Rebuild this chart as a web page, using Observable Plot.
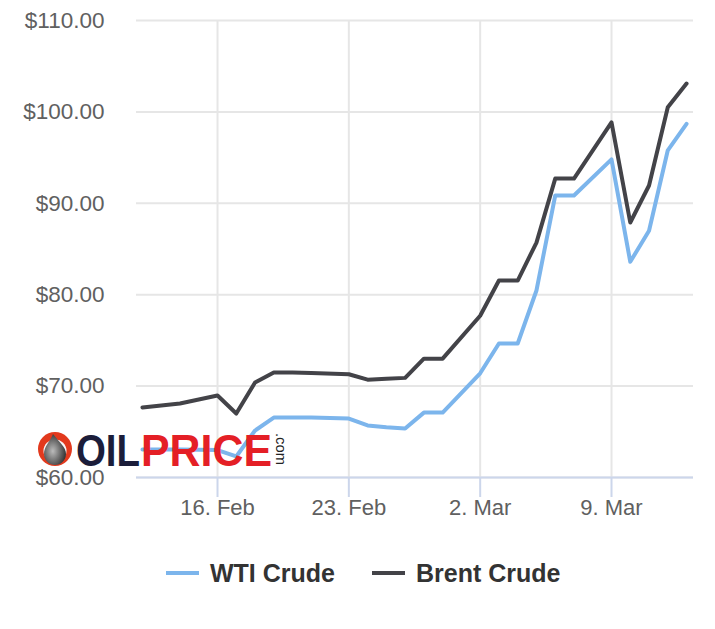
<!DOCTYPE html>
<html>
<head>
<meta charset="utf-8">
<script src="https://cdn.jsdelivr.net/npm/d3@7"></script>
<script src="https://cdn.jsdelivr.net/npm/@observablehq/plot@0.6"></script>
<style>
  html, body { margin: 0; padding: 0; background: #fff; }
  #wrap { position: relative; width: 715px; height: 629px; font-family: "Liberation Sans", Arial, sans-serif; }
  #logo { position: absolute; left: 0; top: 0; pointer-events: none; }
  #legend { position: absolute; left: 166px; top: 559px; height: 28px; display: flex; align-items: center;
            font-weight: bold; font-size: 25px; color: #333; white-space: nowrap; }
  .sym { display: inline-block; width: 33px; height: 4px; margin-right: 11px; }
  .item { display: flex; align-items: center; }
</style>
</head>
<body>
<div id="wrap"></div>
<script>
// ---- data ----
const dates = ["2026-02-12","2026-02-13","2026-02-14","2026-02-16","2026-02-17","2026-02-18","2026-02-19",
  "2026-02-20","2026-02-21","2026-02-23","2026-02-24","2026-02-25","2026-02-26","2026-02-27","2026-02-28",
  "2026-03-02","2026-03-03","2026-03-04","2026-03-05","2026-03-06","2026-03-07","2026-03-09","2026-03-10",
  "2026-03-11","2026-03-12","2026-03-13"];
const wti = [63.06,63.06,63.06,63.0,62.3,65.14,66.56,66.56,66.56,66.45,65.7,65.5,65.36,67.1,67.1,
  71.4,74.66,74.66,80.46,90.85,90.85,94.8,83.6,87.0,95.8,98.7];
const brent = [67.66,67.88,68.1,68.97,67.0,70.39,71.49,71.49,71.43,71.3,70.7,70.8,70.9,73.0,73.0,
  77.7,81.55,81.55,85.7,92.7,92.7,98.85,87.9,91.95,100.5,103.1];
const seriesNames = ["WTI Crude", "Brent Crude"];
const seriesColors = ["#7cb5ec", "#434348"];
const yTicks = [60, 70, 80, 90, 100, 110];
const xTicks = ["2026-02-16", "2026-02-23", "2026-03-02", "2026-03-09"];
const xDomain = ["2026-02-11T16:22:00Z", "2026-03-13T08:53:00Z"];
const monthNames = ["Jan","Feb","Mar","Apr","May","Jun","Jul","Aug","Sep","Oct","Nov","Dec"];

const rows = [];
seriesNames.forEach((name, s) => {
  const vals = s === 0 ? wti : brent;
  dates.forEach((d, i) => rows.push({date: new Date(d), price: vals[i], series: name}));
});
const xTickDates = xTicks.map(d => new Date(d));

const chart = Plot.plot({
  width: 715,
  height: 530,
  marginLeft: 136,
  marginRight: 22,
  marginTop: 20,
  marginBottom: 53,
  style: {fontFamily: "'Liberation Sans', Arial, sans-serif", background: "white", overflow: "visible"},
  x: {type: "utc", domain: xDomain.map(d => new Date(d))},
  y: {domain: [60, 110]},
  color: {domain: seriesNames, range: seriesColors},
  marks: [
    Plot.gridY(yTicks, {stroke: "#e6e6e6", strokeOpacity: 1, strokeWidth: 2}),
    Plot.gridX(xTickDates, {stroke: "#e6e6e6", strokeOpacity: 1, strokeWidth: 2}),
    Plot.ruleY([60], {stroke: "#ccd6eb", strokeWidth: 2}),
    Plot.axisY(yTicks, {tickSize: 0, tickPadding: 32, tickFormat: d => "$" + d.toFixed(2),
      fontSize: 22.5, fill: "#606060", label: null}),
    Plot.axisX(xTickDates, {tickSize: 20, tickPadding: 2, stroke: "#ccd6eb", strokeWidth: 2,
      tickFormat: d => d.getUTCDate() + ". " + monthNames[d.getUTCMonth()],
      fontSize: 22, fill: "#606060", label: null}),
    Plot.line(rows, {x: "date", y: "price", stroke: "series", strokeWidth: 4})
  ]
});
const wrap = document.getElementById("wrap");
wrap.appendChild(chart);

// logo overlay
const logo = `
<svg id="logo" width="715" height="530" xmlns="http://www.w3.org/2000/svg">
  <defs>
    <radialGradient id="dropg" cx="0.4" cy="0.55" r="0.6">
      <stop offset="0" stop-color="#bbb"/><stop offset="1" stop-color="#333"/>
    </radialGradient>
  </defs>
  <circle cx="55" cy="449" r="17" fill="#e2391d"/>
  <circle cx="55" cy="451" r="11.5" fill="#f7f7f7"/>
  <path d="M53,434 C50,442 44,446 44,454 A 11 11 0 0 0 66 454 C 66,447 59,442 53,434 Z" fill="url(#dropg)"/>
  <text x="76" y="466" font-family="'Liberation Sans', Arial, sans-serif" font-weight="bold" font-size="44"
        fill="#1b1d3a" textLength="64" lengthAdjust="spacingAndGlyphs">OIL</text>
  <text x="141" y="466" font-family="'Liberation Sans', Arial, sans-serif" font-weight="bold" font-size="44"
        fill="#e41f26" textLength="131" lengthAdjust="spacingAndGlyphs">PRICE</text>
  <text transform="translate(276,433) rotate(90)" font-family="'Liberation Sans', Arial, sans-serif"
        font-size="14" fill="#222" textLength="32" lengthAdjust="spacingAndGlyphs">.com</text>
</svg>`;
wrap.insertAdjacentHTML("beforeend", logo);

// legend
const legend = document.createElement("div");
legend.id = "legend";
seriesNames.forEach((name, i) => {
  const item = document.createElement("div");
  item.className = "item";
  if (i > 0) item.style.marginLeft = "37px";
  const sym = document.createElement("span");
  sym.className = "sym";
  sym.style.background = seriesColors[i];
  const lab = document.createElement("span");
  lab.textContent = name;
  item.appendChild(sym);
  item.appendChild(lab);
  legend.appendChild(item);
});
wrap.appendChild(legend);
</script>
</body>
</html>
